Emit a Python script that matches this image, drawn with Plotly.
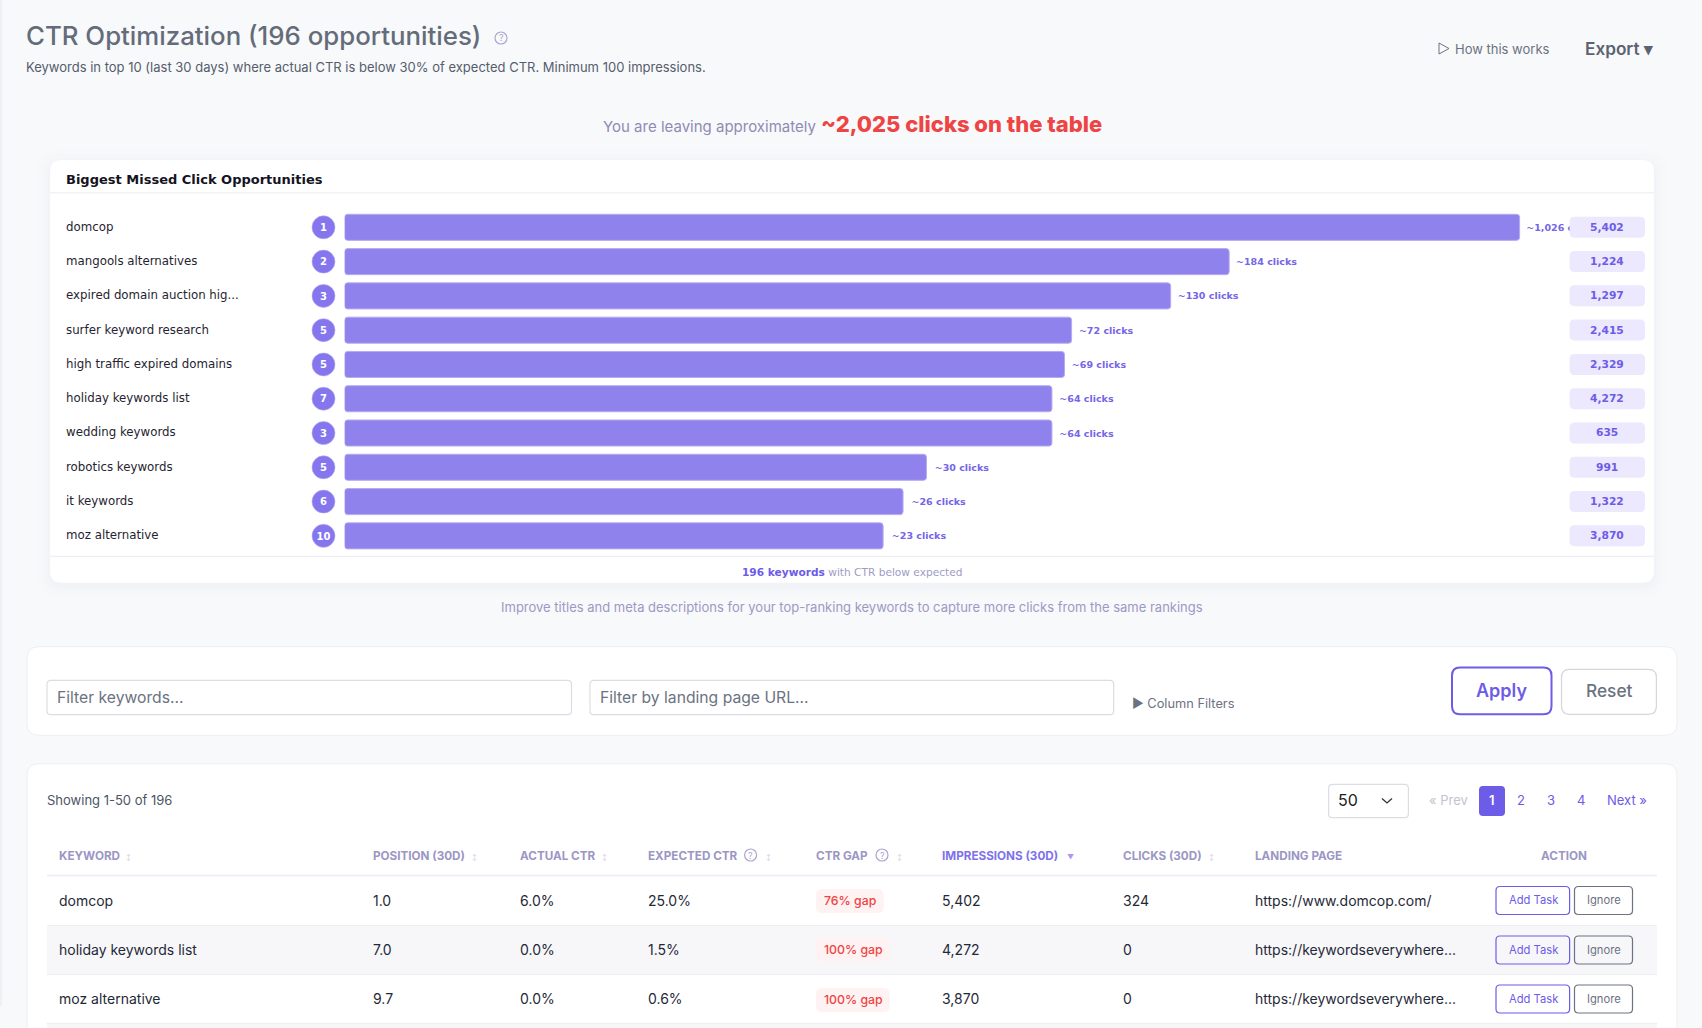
import math
import plotly.graph_objects as go

W, H = 1702, 1028

keywords = ["domcop", "mangools alternatives", "expired domain auction hig...", "surfer keyword research",
            "high traffic expired domains", "holiday keywords list", "wedding keywords", "robotics keywords",
            "it keywords", "moz alternative"]
ranks = [1, 2, 3, 5, 5, 7, 3, 5, 6, 10]
missed_clicks = [1026, 184, 130, 72, 69, 64, 64, 30, 26, 23]
impressions = [5402, 1224, 1297, 2415, 2329, 4272, 635, 991, 1322, 3870]

table_keywords = ["domcop", "holiday keywords list", "moz alternative"]
table_position = ["1.0", "7.0", "9.7"]
table_actual = ["6.0%", "0.0%", "0.0%"]
table_expected = ["25.0%", "1.5%", "0.6%"]
table_gap = ["76% gap", "100% gap", "100% gap"]
table_impressions = ["5,402", "4,272", "3,870"]
table_clicks = ["324", "0", "0"]
table_pages = ["https://www.domcop.com/", "https://keywordseverywhere...", "https://keywordseverywhere..."]

PURPLE = "#6c5ce7"
BAR = "#9082ec"
GREY = "#6b7280"
MUTED = "#9b96c4"
INTER = "Inter"
DEJAVU = "DejaVu Sans"

ROW0, ROW_STEP = 227.3, 34.27
shapes = []
notes = []


def px(x):
    return x / W


def py(y):
    return 1 - y / H


def rrect(x0, y0, x1, y1, r=6, fill="rgba(0,0,0,0)", line=None, width=1, layer="below"):
    pts = [
        f"M{px(x0 + r)},{py(y0)}", f"L{px(x1 - r)},{py(y0)}", f"Q{px(x1)},{py(y0)} {px(x1)},{py(y0 + r)}",
        f"L{px(x1)},{py(y1 - r)}", f"Q{px(x1)},{py(y1)} {px(x1 - r)},{py(y1)}",
        f"L{px(x0 + r)},{py(y1)}", f"Q{px(x0)},{py(y1)} {px(x0)},{py(y1 - r)}",
        f"L{px(x0)},{py(y0 + r)}", f"Q{px(x0)},{py(y0)} {px(x0 + r)},{py(y0)}Z",
    ]
    shapes.append(dict(type="path", xref="paper", yref="paper", path="".join(pts), fillcolor=fill,
                       line=dict(color=line or "rgba(0,0,0,0)", width=width if line else 0), layer=layer))


def hline(x0, x1, y, color, width=1):
    shapes.append(dict(type="line", xref="paper", yref="paper", x0=px(x0), x1=px(x1), y0=py(y), y1=py(y),
                       line=dict(color=color, width=width), layer="below"))


def rect(x0, y0, x1, y1, fill):
    shapes.append(dict(type="rect", xref="paper", yref="paper", x0=px(x0), x1=px(x1), y0=py(y0), y1=py(y1),
                       fillcolor=fill, line=dict(width=0), layer="below"))


def label(x, y, s, size=13, color=GREY, family=INTER, anchor="left", weight=400):
    notes.append(dict(xref="paper", yref="paper", x=px(x), y=py(y), text=s, showarrow=False, xanchor=anchor,
                      yanchor="middle", borderpad=0, borderwidth=0,
                      font=dict(size=size, color=color, family=family, weight=weight)))


def help_icon(x, y):
    shapes.append(dict(type="circle", xref="paper", yref="paper", x0=px(x - 6), x1=px(x + 6), y0=py(y - 6),
                       y1=py(y + 6), line=dict(color="#aaa6d2", width=1.2), layer="below"))
    label(x, y, "?", 9, "#aaa6d2", anchor="center")


# page furniture
rect(0, 0, 2, 1006, "#eef0f4")

# header
label(26, 36, "CTR Optimization (196 opportunities)", 25.8, "#646c79", weight=500)
help_icon(501, 38)
label(26, 67.5, "Keywords in top 10 (last 30 days) where actual CTR is below 30% of expected CTR. Minimum 100 impressions.",
      13, "#555d6b")
shapes.append(dict(type="path", xref="paper", yref="paper", layer="below", line=dict(color=GREY, width=1),
                   path=f"M{px(1439)},{py(43)}L{px(1449)},{py(48.5)}L{px(1439)},{py(54)}Z"))
label(1454.5, 48.5, "How this works", 13, GREY)
label(1585, 48.5, "Export ▾", 17.2, "#5b6371", weight=600)

label(603, 126.5, "You are leaving approximately", 15, "#8f8bb3")
label(820.5, 124, "~2,025 clicks on the table", 22, "#ef4444", weight=800)

# chart panel
for grow, alpha in [(14, 0.006), (9, 0.008), (5, 0.010), (2, 0.012)]:
    rrect(50 - grow, 160 - grow + 3, 1654 + grow, 582.7 + grow + 3, 12 + grow, f"rgba(90,80,170,{alpha})")
rrect(50, 160, 1654, 582.7, 12, "#ffffff")
hline(50, 1654, 192.8, "#f2f2f8", 1.5)
hline(50, 1654, 556.3, "#eeeef6", 1.2)
label(66, 179.5, "Biggest Missed Click Opportunities", 13, "#14141f", DEJAVU, weight=700)
label(742, 572.3, f"<b style='color:{PURPLE}'>196 keywords</b> with CTR below expected", 10.6, "#a09cc6", DEJAVU)
label(852, 607.4, "Improve titles and meta descriptions for your top-ranking keywords to capture more clicks from the same rankings",
      13, "#9d98c4", anchor="center")

# impression pills, drawn over the chart so the long label runs under them
for i, value in enumerate(impressions):
    yc = ROW0 + ROW_STEP * i
    rrect(1569.6, yc - 10.5, 1645, yc + 10.5, 5, "#ece8fd", layer="above")
    label(1606.5, yc, f"{value:,}", 10.7, PURPLE, DEJAVU, "center", 700)

# filter card
rrect(27, 646.7, 1677, 735.3, 12, "#ffffff", "#eeeef5")
rrect(47, 680.3, 571.5, 714.7, 4, "#ffffff", "#dcdce4", 1.2)
rrect(590, 680.3, 1113.7, 714.7, 4, "#ffffff", "#dcdce4", 1.2)
label(57, 697.2, "Filter keywords...", 15.7, GREY)
label(599.7, 697.2, "Filter by landing page URL...", 15.7, GREY)
label(1132, 703.4, "▶ Column Filters", 12.8, GREY)
rrect(1452, 667.5, 1551.5, 714.3, 8, "#ffffff", PURPLE, 2)
label(1501.7, 690.2, "Apply", 18, PURPLE, anchor="center", weight=600)
rrect(1561.5, 669.3, 1656.4, 714.3, 8, "#ffffff", "#d5d5dd", 1.2)
label(1609, 690.5, "Reset", 17.3, GREY, anchor="center", weight=500)

# table card
rrect(27, 763.7, 1677, 1060, 12, "#ffffff", "#eeeef5")
label(47, 800.2, "Showing 1-50 of 196", 13, "#4b5563")
rrect(1328.6, 784.3, 1408.4, 817.7, 4, "#ffffff", "#dcdce4", 1.2)
label(1338, 800.2, "50", 16, "#222222")
shapes.append(dict(type="path", xref="paper", yref="paper", layer="below", line=dict(color="#333333", width=1.3),
                   path=f"M{px(1382)},{py(798.5)}L{px(1387)},{py(803)}L{px(1392)},{py(798.5)}"))
label(1428.5, 800.2, "« Prev", 13, "#c4c4cf")
rrect(1479, 786, 1505, 816, 4, PURPLE)
label(1492, 800.2, "1", 13, "#ffffff", anchor="center", weight=600)
for x_page, page in zip([1520.8, 1550.6, 1581], ["2", "3", "4"]):
    label(x_page, 800.2, page, 13, PURPLE, anchor="center")
label(1606.8, 800.2, "Next »", 13, PURPLE)

headers = [(59, "KEYWORD", 128.6), (372.5, "POSITION (30D)", 474), (520, "ACTUAL CTR", 604.6),
           (647.5, "EXPECTED CTR", 768), (816.3, "CTR GAP", 899), (1123, "CLICKS (30D)", 1211),
           (1254.8, "LANDING PAGE", None)]
for x_head, name, x_sort in headers:
    label(x_head, 856, name, 11.7, MUTED, weight=700)
    if x_sort:
        label(x_sort, 856.5, "↕", 6, "#cfcce4", anchor="center")
label(942, 856, "IMPRESSIONS (30D)", 11.7, "#7e72ea", weight=700)
label(1070, 857, "▼", 7, "#a59cf0", anchor="center")
label(1564, 856, "ACTION", 11.7, MUTED, anchor="center", weight=700)
help_icon(750.6, 855)
help_icon(882, 855)
hline(47, 1657, 875.5, "#ecebfa", 1.5)

rect(47, 925.5, 1657, 974.7, "#f7f7fa")
rect(47, 1023.5, 1657, 1030, "#f7f7fa")
hline(47, 1657, 925.5, "#eeeef2")
hline(47, 1657, 974.7, "#eeeef2")
hline(47, 1657, 1023.5, "#eeeef2")

row_y = [900, 949, 998]
pill_y = [901, 950, 1000]
btn_y = [900.5, 950, 999]
pill_right = [883.6, 889.5, 889.5]
for i, yc in enumerate(row_y):
    label(59, yc, table_keywords[i], 14, "#1f2937")
    label(372.5, yc, table_position[i], 14, "#1f2937")
    label(520, yc, table_actual[i], 14, "#1f2937")
    label(647.5, yc, table_expected[i], 14, "#1f2937")
    rrect(816, pill_y[i] - 12, pill_right[i], pill_y[i] + 12, 6, "#fef2f2")
    label((816 + pill_right[i]) / 2 + 0.5, pill_y[i] - 0.5, table_gap[i], 12.3, "#ef4444", anchor="center", weight=500)
    label(942, yc, table_impressions[i], 14, "#1f2937")
    label(1123, yc, table_clicks[i], 14, "#1f2937")
    label(1254.8, yc, table_pages[i], 14, "#1f2937")
    rrect(1496, btn_y[i] - 14, 1569.6, btn_y[i] + 14, 4, "rgba(0,0,0,0)", PURPLE, 1.2)
    label(1533, btn_y[i] - 0.5, "Add Task", 11.2, PURPLE, anchor="center")
    rrect(1574.5, btn_y[i] - 14, 1632.5, btn_y[i] + 14, 4, "rgba(0,0,0,0)", GREY, 1.2)
    label(1603.5, btn_y[i] - 0.5, "Ignore", 11.2, GREY, anchor="center")

rows = list(range(len(keywords)))
fig = go.Figure()
# widths in the original are on a log(1 + clicks) scale, so base=1 on a log axis
fig.add_trace(go.Bar(x=missed_clicks, y=rows, base=1, orientation="h", width=0.76,
                     marker=dict(color=BAR, line=dict(color="#b4abf3", width=1), cornerradius=3), hoverinfo="skip"))
fig.add_trace(go.Scatter(x=[c + 1.3 for c in missed_clicks], y=rows, yaxis="y2", mode="text", cliponaxis=False,
                         text=[f"  ~{c:,} clicks" for c in missed_clicks], textposition="middle right",
                         textfont=dict(size=9.5, color="#7565e8", family=DEJAVU, weight=700), hoverinfo="skip"))
fig.add_trace(go.Scatter(x=[66] * len(keywords), y=rows, xaxis="x2", yaxis="y3", mode="text", text=keywords,
                         textposition="middle right", cliponaxis=False,
                         textfont=dict(size=11.8, color="#1f2430", family=DEJAVU), hoverinfo="skip"))
fig.add_trace(go.Scatter(x=[323.5] * len(ranks), y=rows, xaxis="x2", mode="markers", cliponaxis=False,
                         marker=dict(size=23, color="#8576ee", line=dict(color="#b4abf3", width=0.6)),
                         hoverinfo="skip"))
fig.add_trace(go.Scatter(x=[323.5] * len(ranks), y=rows, xaxis="x2", yaxis="y2", mode="text", text=ranks,
                         textposition="middle center", cliponaxis=False,
                         textfont=dict(size=10, color="#ffffff", family=DEJAVU, weight=700), hoverinfo="skip"))

fig.update_layout(
    width=W, height=H, margin=dict(l=0, r=0, t=0, b=0), paper_bgcolor="#f8f9fb", plot_bgcolor="rgba(0,0,0,0)",
    showlegend=False, shapes=shapes, annotations=notes,
    xaxis=dict(type="log", domain=[px(344.6), px(1654)], range=[0, math.log10(1027) * (1654 - 344.6) / 1175], visible=False),
    xaxis2=dict(domain=[px(50), px(344.6)], range=[50, 344.6], visible=False, anchor="y"),
    yaxis=dict(domain=[py(553), py(210.2)], range=[9.5, -0.5], visible=False),
    # same rows, slightly lower: text sits a little below the bar centre in the original
    yaxis2=dict(domain=[py(554.2), py(211.4)], range=[9.5, -0.5], visible=False, anchor="x"),
    yaxis3=dict(domain=[py(553.4), py(210.6)], range=[9.5, -0.5], visible=False, anchor="x2"),
)

fig.write_html("out.html", config=dict(displayModeBar=False),
               post_script="document.body.style.margin='0';document.body.style.overflow='hidden';")
